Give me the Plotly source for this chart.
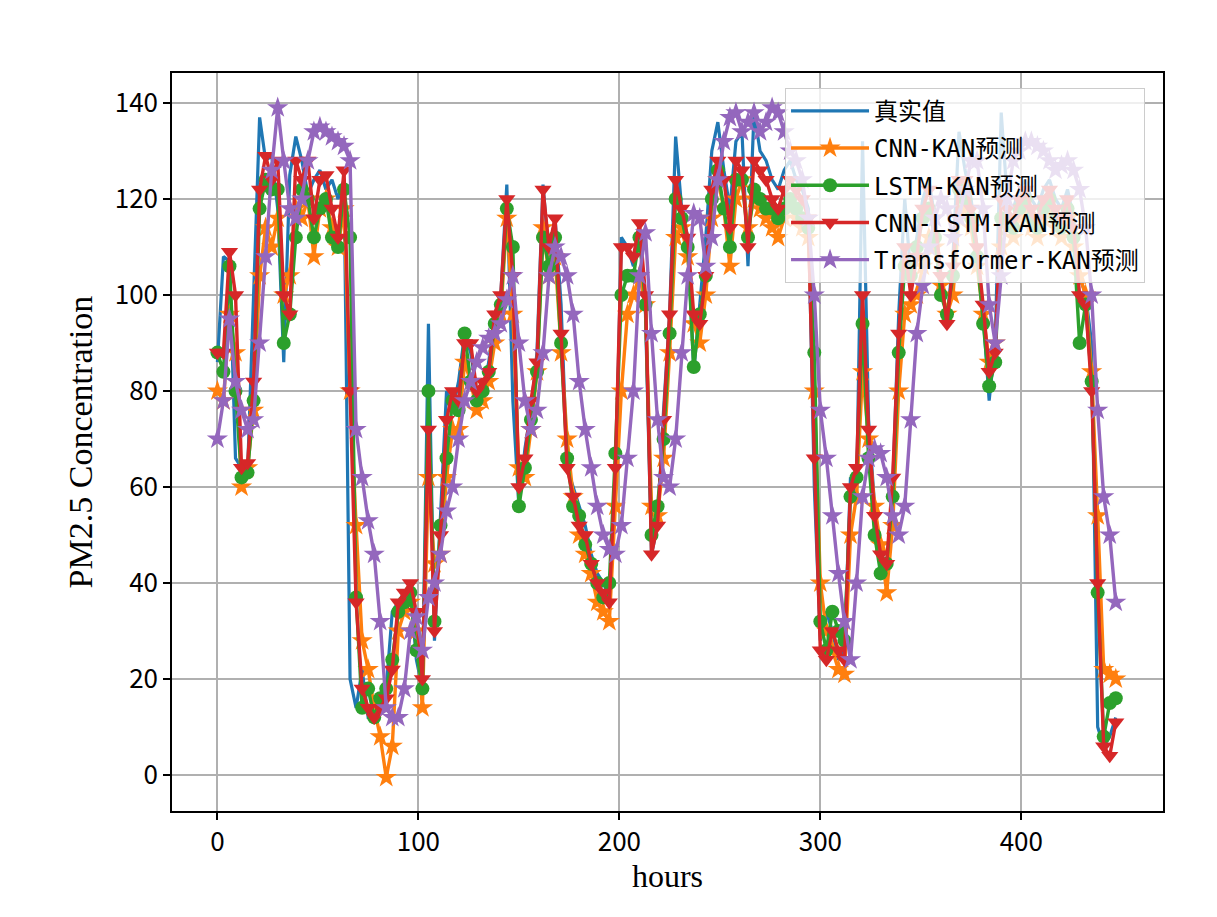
"""PM2.5 concentration: true values vs. four KAN-based model predictions."""

import plotly.graph_objects as go

# hours, sampled every 3 h
HOURS = list(range(0, 450, 3))

TRUE_VALUES = [
    86, 108, 107, 66, 64, 63, 100, 137, 128, 129,
    118, 86, 125, 133, 128, 121, 124, 126, 122, 124,
    120, 124, 20, 14, 22, 12, 12, 16, 18, 34,
    36, 38, 39, 24, 18, 94, 28, 55, 80, 76,
    82, 92, 88, 80, 80, 86, 96, 100, 123, 78,
    56, 68, 76, 88, 123, 108, 116, 98, 64, 60,
    56, 52, 46, 42, 40, 37, 60, 112, 110, 106,
    114, 96, 46, 52, 76, 96, 133, 118, 112, 84,
    98, 112, 130, 136, 126, 118, 132, 134, 106, 138,
    130, 128, 124, 122, 126, 128, 124, 122, 118, 60,
    28, 34, 30, 24, 26, 62, 58, 132, 74, 56,
    46, 42, 60, 96, 120, 104, 112, 120, 124, 116,
    104, 94, 108, 134, 126, 120, 110, 96, 78, 90,
    138, 120, 118, 122, 124, 120, 118, 122, 124, 120,
    118, 122, 116, 104, 100, 90, 10, 6, 8, 12,
]

CNN_KAN = [
    80, 78, 96, 88, 60, 64, 76, 104, 114, 110,
    116, 100, 104, 118, 116, 120, 108, 118, 120, 114,
    110, 118, 80, 52, 28, 22, 14, 8, -0.5, 6,
    30, 34, 36, 30, 14, 62, 44, 46, 62, 72,
    72, 86, 82, 76, 78, 82, 90, 96, 116, 96,
    64, 62, 72, 84, 114, 104, 108, 88, 70, 58,
    50, 46, 42, 36, 34, 32, 56, 80, 96, 100,
    104, 98, 56, 54, 66, 88, 112, 114, 108, 94,
    90, 100, 116, 124, 118, 106, 120, 124, 114, 120,
    118, 116, 114, 112, 116, 118, 116, 114, 112, 80,
    40, 30, 26, 22, 21, 50, 58, 84, 70, 56,
    48, 38, 52, 80, 96, 98, 100, 106, 112, 110,
    102, 96, 100, 116, 118, 114, 106, 96, 86, 90,
    110, 114, 112, 116, 118, 114, 112, 116, 118, 114,
    112, 116, 110, 104, 100, 84, 54, 22, 21, 20,
]

LSTM_KAN = [
    88, 84, 106, 80, 62, 63, 78, 118, 124, 122,
    122, 90, 96, 112, 122, 120, 112, 118, 120, 112,
    110, 122, 112, 37, 14, 18, 12, 16, 18, 24,
    34, 36, 38, 26, 18, 80, 32, 52, 66, 78,
    76, 92, 82, 78, 80, 84, 94, 98, 118, 110,
    56, 64, 74, 84, 112, 106, 112, 90, 66, 56,
    54, 48, 44, 40, 37, 40, 67, 100, 104, 104,
    112, 98, 50, 56, 70, 92, 120, 116, 110, 85,
    96, 104, 120, 126, 118, 110, 124, 124, 112, 122,
    120, 118, 118, 116, 118, 120, 118, 116, 114, 88,
    32, 26, 34, 30, 28, 58, 62, 94, 66, 50,
    42, 44, 58, 88, 106, 104, 110, 116, 118, 112,
    100, 96, 104, 122, 120, 116, 108, 94, 81, 86,
    116, 116, 114, 118, 120, 116, 114, 118, 120, 116,
    114, 118, 112, 90, 98, 82, 38, 8, 15, 16,
]

CNN_LSTM_KAN = [
    88, 88, 109, 100, 64, 65, 82, 122, 129, 124,
    128, 100, 96, 128, 124, 128, 116, 124, 125, 118,
    112, 126, 80, 36, 18, 14, 12, 14, 16, 22,
    36, 38, 40, 34, 20, 72, 30, 50, 74, 80,
    78, 90, 90, 80, 82, 84, 96, 100, 120, 104,
    60, 66, 78, 86, 122, 110, 116, 92, 64, 58,
    52, 50, 44, 40, 38, 36, 64, 110, 110, 108,
    115, 100, 46, 52, 74, 96, 124, 118, 112, 96,
    94, 104, 122, 128, 124, 114, 128, 126, 110, 128,
    126, 124, 120, 118, 122, 124, 122, 120, 116, 66,
    26, 24, 30, 26, 24, 60, 64, 100, 72, 54,
    46, 44, 62, 92, 110, 100, 108, 118, 122, 116,
    104, 94, 106, 124, 124, 118, 110, 98, 84, 88,
    120, 118, 116, 120, 122, 118, 116, 120, 122, 118,
    116, 120, 114, 100, 98, 80, 40, 6, 4, 11,
]

TRANSFORMER_KAN = [
    70, 78, 95, 82, 76, 72, 74, 90, 108, 126,
    139, 128, 118, 116, 120, 128, 134, 135, 134, 133,
    132, 131, 128, 72, 62, 53, 46, 32, 14, 12,
    12, 18, 30, 33, 26, 37, 40, 46, 55, 60,
    70, 78, 82, 86, 89, 91, 92, 94, 99, 104,
    90, 78, 72, 76, 88, 104, 110, 108, 104, 96,
    82, 72, 64, 56, 50, 47, 46, 52, 66, 80,
    104, 113, 92, 74, 62, 60, 70, 88, 104, 117,
    116, 106, 112, 124, 132, 137, 138, 134, 136, 138,
    134, 136, 139, 138, 134, 130, 128, 124, 116, 100,
    76, 66, 54, 42, 32, 24, 40, 58, 66, 68,
    67, 62, 54, 50, 56, 74, 92, 102, 110, 116,
    120, 118, 112, 116, 122, 128, 128, 118, 98, 90,
    104, 120, 128, 130, 132, 132, 131, 130, 128, 126,
    127, 128, 126, 122, 114, 100, 76, 58, 50, 36,
]

TICK_FONT = "Noto Sans CJK SC, SimHei, sans-serif"
LEGEND_FONT = "DejaVu Sans Mono, Noto Sans CJK SC, monospace"
TITLE_FONT = "Liberation Serif, Times New Roman, serif"


def build_chart():
    """Line chart with markers for each prediction model."""
    fig = go.Figure()

    fig.add_trace(go.Scatter(
        x=HOURS, y=TRUE_VALUES, name="真实值", mode="lines",
        line=dict(color="#1f77b4", width=3.2), legendgroup="a",
    ))

    models = [
        ("CNN-KAN预测", CNN_KAN, "#ff7f0e", "star", 16),
        ("LSTM-KAN预测", LSTM_KAN, "#2ca02c", "circle", 14),
        ("CNN-LSTM-KAN预测", CNN_LSTM_KAN, "#d62728", "triangle-down", 15),
        ("Transformer-KAN预测", TRANSFORMER_KAN, "#9467bd", "star", 16),
    ]
    for name, values, color, symbol, size in models:
        fig.add_trace(go.Scatter(
            x=HOURS, y=values, name=name, mode="lines+markers",
            line=dict(color=color, width=3.4),
            marker=dict(symbol=symbol, size=size, color=color, line=dict(width=0)),
            legendgroup=name,
        ))

    axis_common = dict(
        showline=True, linecolor="black", linewidth=1.6, mirror=True,
        showgrid=True, gridcolor="#b0b0b0", gridwidth=1.5,
        ticks="outside", ticklen=7, tickwidth=1.6, tickcolor="black",
        tickfont=dict(family=TICK_FONT, size=26, color="black"),
        zeroline=False,
    )

    fig.update_layout(
        width=1217, height=917,
        # page body adds an 8 px offset, so margins are trimmed to match
        margin=dict(l=164, r=62, t=65, b=114),
        paper_bgcolor="white", plot_bgcolor="white",
        xaxis=dict(
            range=[-22.6, 470.5], tickvals=[0, 100, 200, 300, 400],
            title=dict(text="hours", standoff=8,
                       font=dict(family=TITLE_FONT, size=32, color="black")),
            **axis_common,
        ),
        yaxis=dict(
            range=[-7.5, 146.25], tickvals=[0, 20, 40, 60, 80, 100, 120, 140],
            title=dict(text="PM2.5 Concentration", standoff=12,
                       font=dict(family=TITLE_FONT, size=34, color="black")),
            **axis_common,
        ),
        legend=dict(
            x=0.6186, y=0.98, xanchor="left", yanchor="top",
            bgcolor="rgba(255,255,255,0.8)", bordercolor="#cccccc", borderwidth=1,
            font=dict(family=LEGEND_FONT, size=24, color="black"),
            itemwidth=78, tracegroupgap=3,
        ),
        showlegend=True,
    )
    return fig


if __name__ == "__main__":
    fig = build_chart()
    fig.write_html("out.html")
